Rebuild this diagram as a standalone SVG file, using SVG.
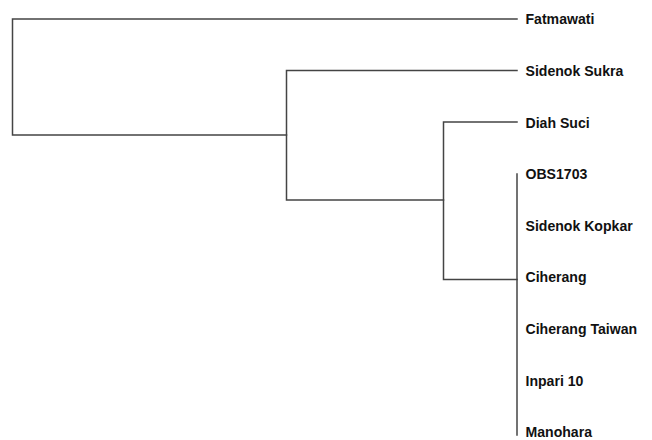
<svg xmlns="http://www.w3.org/2000/svg" width="652" height="440" viewBox="0 0 652 440">
<style>
.e{fill:none;stroke:#444;stroke-width:1.5;stroke-linecap:square}
.t{font-family:"Liberation Sans",Arial,sans-serif;font-size:15.4px;font-weight:bold;fill:#111}
</style>
<rect width="652" height="440" fill="#fff"/>
<g id="connectors">
<path class="e" d="M517,19 H12.5 V135 H286.5"/>
<path class="e" d="M517,70.5 H286.5 V200 H443.5"/>
<path class="e" d="M517,122 H443.5 V279.5 H517"/>
<path class="e" d="M517,174 V435"/>
</g>
<g id="n1"><text class="t" transform="translate(525.5,24) scale(0.915,1)">Fatmawati</text></g>
<g id="n2"><text class="t" transform="translate(525.5,76) scale(0.915,1)">Sidenok Sukra</text></g>
<g id="n3"><text class="t" transform="translate(525.5,127.5) scale(0.915,1)">Diah Suci</text></g>
<g id="n4"><text class="t" transform="translate(525.5,179) scale(0.915,1)">OBS1703</text></g>
<g id="n5"><text class="t" transform="translate(525.5,230.5) scale(0.915,1)">Sidenok Kopkar</text></g>
<g id="n6"><text class="t" transform="translate(525.5,282) scale(0.915,1)">Ciherang</text></g>
<g id="n7"><text class="t" transform="translate(525.5,334) scale(0.915,1)">Ciherang Taiwan</text></g>
<g id="n8"><text class="t" transform="translate(525.5,385.5) scale(0.915,1)">Inpari 10</text></g>
<g id="n9"><text class="t" transform="translate(525.5,437) scale(0.915,1)">Manohara</text></g>
</svg>
